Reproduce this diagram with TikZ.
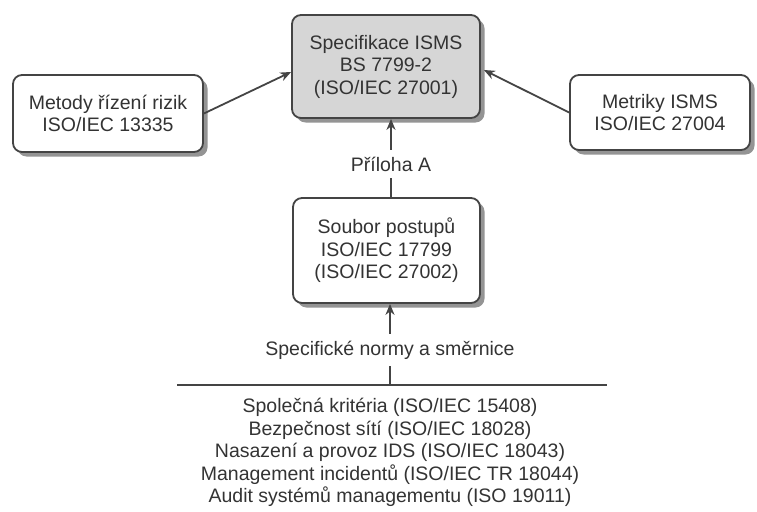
\documentclass[tikz,border=0pt]{standalone}
\usepackage{fontspec}
\setmainfont{Liberation Sans}
\usetikzlibrary{shadows,arrows.meta}
\definecolor{ink}{HTML}{333333}
\definecolor{edge}{HTML}{444444}
\definecolor{shade}{HTML}{D6D6D6}
\begin{document}
\begin{tikzpicture}[x=1pt,y=-1pt,
  every node/.style={font=\fontsize{19.5pt}{22.5pt}\selectfont, text=ink},
  stdbox/.style={draw=edge, line width=1.8pt, rounded corners=9pt, fill=white,
    align=center, inner sep=0pt,
    drop shadow={shadow xshift=4.5pt, shadow yshift=-4.5pt, fill=black, opacity=0.42}},
  keybox/.style={stdbox, fill=shade},
  arr/.style={draw=edge, line width=1.8pt, -{Stealth[length=11pt,width=9pt]}},
  plain/.style={draw=edge, line width=1.8pt},
  lbl/.style={inner xsep=2pt, inner ysep=7pt}]
\useasboundingbox (0,0) rectangle (757,511);

% boxes
\node[keybox, minimum width=188, minimum height=103] (spec) at (386,66.5)
  {Specifikace ISMS\\BS 7799-2\\(ISO/IEC 27001)};
\node[stdbox, minimum width=190, minimum height=77] (risk) at (108,113.5)
  {Metody řízení rizik\\ISO/IEC 13335};
\node[stdbox, minimum width=180, minimum height=75] (metr) at (660,112.5)
  {Metriky ISMS\\ISO/IEC 27004};
\node[stdbox, minimum width=187, minimum height=105] (code) at (386.5,250.5)
  {Soubor postupů\\ISO/IEC 17799\\(ISO/IEC 27002)};

% labels on the vertical links
\node[lbl] (anx) at (391,164) {Příloha A};
\node[lbl] (norm) at (390,350) {Specifické normy a směrnice};

% rule above the list of standards
\coordinate (ruleL) at (177,385);
\coordinate (ruleR) at (607,385);
\draw[plain, line width=2.2pt] (ruleL) -- (ruleR);

% list of specific standards
\node[align=center, anchor=north] (list) at (390,395)
  {Společná kritéria (ISO/IEC 15408)\\
   Bezpečnost sítí (ISO/IEC 18028)\\
   Nasazení a provoz IDS (ISO/IEC 18043)\\
   Management incidentů (ISO/IEC TR 18044)\\
   Audit systémů managementu (ISO 19011)};

% connectors
\draw[arr] (risk.east) -- (spec.west |- 0,72);
\draw[arr] (metr.west) -- ([xshift=3pt]spec.east |- 0,70);
\draw[arr] (anx.north) -- (anx.north |- spec.south);
\draw[plain] (code.north -| anx) -- (anx.south);
\draw[arr] (norm.north) -- (norm.north |- code.south);
\draw[plain] (ruleL -| norm) -- (norm.south);
\end{tikzpicture}
\end{document}
